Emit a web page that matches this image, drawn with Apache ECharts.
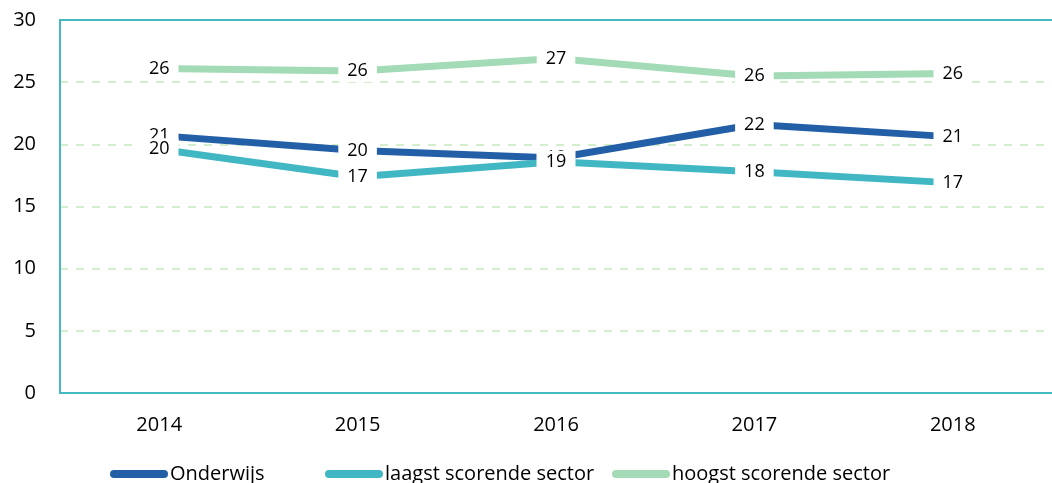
<!DOCTYPE html>
<html>
<head>
<meta charset="utf-8">
<script src="https://cdn.jsdelivr.net/npm/echarts@6/dist/echarts.min.js"></script>
<style>
  html, body { margin: 0; padding: 0; background: #fff; }
  #chart { width: 1052px; height: 483px; }
</style>
</head>
<body>
<div id="chart"></div>
<script>
const years = ["2014", "2015", "2016", "2017", "2018"];
const onderwijs = [20.7, 19.5, 18.9, 21.6, 20.6];
const laagst = [19.6, 17.4, 18.6, 17.8, 16.9];
const hoogst = [26.1, 25.9, 26.9, 25.5, 25.7];
const yTicks = [0, 5, 10, 15, 20, 25, 30];
const seriesNames = ["Onderwijs", "laagst scorende sector", "hoogst scorende sector"];

const font = "Open Sans";
const teal = "#45b8c4";

function lineSeries(name, data, color) {
  return {
    name: name,
    type: "line",
    data: data,
    symbol: "circle",
    symbolSize: 0.1,
    lineStyle: { width: 7, color: color, cap: "butt" },
    itemStyle: { color: color },
    label: {
      show: true,
      position: "inside",
      formatter: p => Math.round(p.value),
      color: "#000",
      fontFamily: font,
      fontSize: 18,
      backgroundColor: "#fff",
      padding: [2, 9]
    },
    emphasis: { disabled: true }
  };
}

// one legend per item so each can sit where the original puts it
const legendLeft = [105, 320, 607];
const legends = seriesNames.map((n, i) => ({
  left: legendLeft[i],
  top: 459,
  itemWidth: 58,
  itemHeight: 8,
  icon: "path://M4,0 H54 A4,4 0 0 1 54,8 H4 A4,4 0 0 1 4,0 Z",
  textStyle: { fontFamily: font, fontSize: 20, color: "#000", padding: [0, 0, 0, -3] },
  data: [n]
}));

const chart = echarts.init(document.getElementById("chart"));
chart.setOption({
  animation: false,
  grid: { left: 60, top: 20, width: 1000, bottom: 90 },
  legend: legends,
  xAxis: [
    {
      type: "category",
      data: years,
      axisLine: { lineStyle: { color: teal, width: 2 } },
      axisTick: { show: false },
      axisLabel: { fontFamily: font, fontSize: 20, color: "#000", margin: 22 }
    },
    {
      type: "category",
      position: "top",
      data: years,
      axisLine: { show: true, lineStyle: { color: teal, width: 2 } },
      axisTick: { show: false },
      axisLabel: { show: false }
    }
  ],
  yAxis: {
    type: "value",
    min: yTicks[0],
    max: yTicks[yTicks.length - 1],
    interval: 5,
    axisLine: { show: true, lineStyle: { color: teal, width: 2 } },
    axisTick: { show: false },
    axisLabel: { fontFamily: font, fontSize: 20, color: "#000", margin: 24 },
    splitLine: { lineStyle: { color: "#c5e8bd", type: [8, 8], width: 1.5 } }
  },
  series: [
    lineSeries(seriesNames[0], onderwijs, "#235fa6"),
    lineSeries(seriesNames[1], laagst, "#42b7c4"),
    lineSeries(seriesNames[2], hoogst, "#a2dbb5")
  ]
});
</script>
</body>
</html>
